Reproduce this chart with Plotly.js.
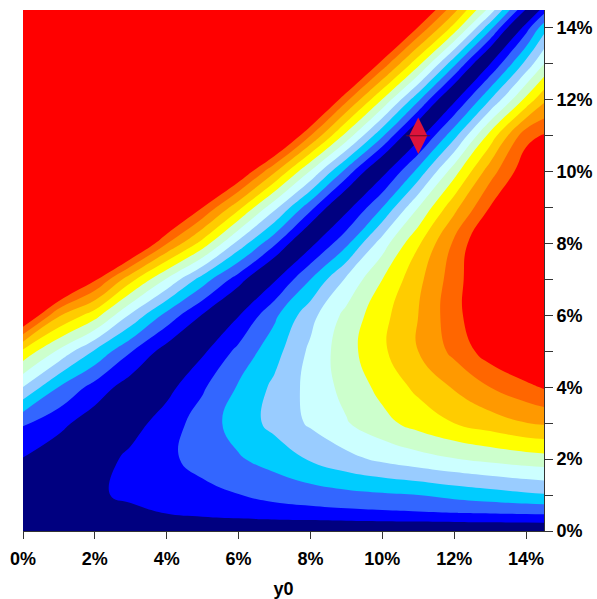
<!DOCTYPE html>
<html><head><meta charset="utf-8">
<script src="https://cdn.plot.ly/plotly-3.0.1.min.js"></script>
<style>html,body{margin:0;padding:0;background:#fff;} #chart{width:597px;height:599px;}</style>
</head><body><div id="chart"></div>
<script>
// grid positions (percent)
const xGrid = [0,1,2,3,4,5,6,7,8,9,10,11,12,13,14,14.5];
const yGrid = [0,0.5,1,2,3,4,5,6,7,8,9,10,11,12,13,14,14.5];
// signed contour level (|value| = colour band index)
const zRow00 = [0,0,0,0,0,0,0,0,0,0,0,0,0,0,0,0];
const zRow005 = [0,-0.15,-0.45,-0.75,-1.03,-1.25,-1.42,-1.55,-1.65,-1.75,-1.83,-1.9,-1.98,-2.05,-2.12,-2.15];
const zRow01 = [0.2,-0.3,-0.85,-1.2,-1.45,-1.7,-1.97,-2.3,-2.5,-2.7,-2.85,-3.0,-3.3,-3.55,-3.8,-3.9];
const zRow02 = [0.95,0.3,-0.5,-1.25,-1.8,-2.35,-2.9,-3.4,-4.1,-4.7,-5.2,-5.6,-5.95,-6.25,-6.5,-6.6];
const zRow03 = [2.1,1.3,0.4,-0.57,-1.49,-2.47,-3.44,-4.3,-5.15,-5.92,-6.69,-7.38,-8.0,-8.49,-8.98,-9.1];
const zRow04 = [4.97,2.96,1.61,0.45,-0.67,-1.87,-3.11,-4.22,-5.32,-6.33,-7.3,-8.25,-9.09,-10.0,-10.7,-11.1];
const zRow05 = [7.74,5.79,3.86,2.05,0.53,-0.83,-2.28,-3.63,-5.21,-6.6,-7.82,-9.0,-10.27,-11.53,-12.55,-13.0];
const zRow06 = [12.5,9.1,7.41,4.82,2.64,0.91,-0.95,-2.8,-4.67,-6.31,-7.69,-9.0,-10.63,-12.14,-13.57,-14.3];
const zRow07 = [16,13.8,11.15,8.32,5.88,3.5,1.47,-0.875,-3.0,-5.17,-7.0,-8.73,-10.52,-12.33,-13.93,-14.8];
const zRow08 = [16,16,15.5,13.0,10.02,7.58,4.62,2.17,-0.71,-2.77,-5.53,-7.88,-10.2,-12.33,-13.9,-14.6];
const zRow09 = [16,16,16,16,13.7,11.0,8.29,5.26,2.33,-0.67,-3.0,-6.0,-8.7,-11.05,-12.9,-13.3];
const zRow10 = [16,16,16,16,16,15.0,12.1,9.13,5.89,2.6,-0.63,-3.33,-6.6,-9.57,-11.7,-12.3];
const zRow11 = [16,16,16,16,16,16,16,13.4,10.0,6.63,3.13,-0.58,-3.68,-7.39,-10.67,-11.1];
const zRow12 = [16,16,16,16,16,16,16,16,13.9,10.23,6.93,3.18,-0.77,-4.0,-7.29,-8.8];
const zRow13 = [16,16,16,16,16,16,16,16,16,14.2,10.6,7.29,3.25,-1.0,-4.33,-6.0];
const zRow14 = [16,16,16,16,16,16,16,16,16,16,14.2,10.89,7.61,3.32,-1.57,-3.6];
const zRow145 = [16,16,16,16,16,16,16,16,16,16,15.5,12.6,9.3,5.6,0.88,-1.57];
const zRows = [zRow00,zRow005,zRow01,zRow02,zRow03,zRow04,zRow05,zRow06,zRow07,zRow08,zRow09,zRow10,zRow11,zRow12,zRow13,zRow14,zRow145];

const bandColors = ['#000080','#0000FF','#3366FF','#00CCFF','#99CCFF','#CCFFFF','#CCFFCC','#FFFF00','#FFCC00','#FF9900','#FF6600','#FF0000'];
const xTickVals = [0,2,4,6,8,10,12,14];
const xTickText = ['0%','2%','4%','6%','8%','10%','12%','14%'];
const yTickVals = [0,1,2,3,4,5,6,7,8,9,10,11,12,13,14];
const yTickText = ['0%','','2%','','4%','','6%','','8%','','10%','','12%','','14%'];
const markerX = [11];
const markerY = [11];

// discrete, mirrored colour scale for levels -11..11
const nTop = bandColors.length - 1; // 11
const nLev = 2 * nTop + 1;           // 23
const colorscale = [];
for (let k = -nTop - 1; k <= nTop; k++) {
  const idx = k >= 0 ? Math.min(k, nTop) : Math.min(-k - 1, nTop);
  colorscale.push([(k + nTop + 1) / nLev, bandColors[idx]]);
}

const fontBold = {family: 'Liberation Sans, Arial, sans-serif', size: 18, color: '#000', weight: 'bold'};

const traces = [
  {
    type: 'contour', x: xGrid, y: yGrid, z: zRows,
    autocontour: false,
    contours: {start: -nTop, end: nTop, size: 1, coloring: 'fill', showlines: false},
    colorscale: colorscale, showscale: false,
    line: {width: 0, smoothing: 1.3},
    hoverinfo: 'skip'
  },
  {
    type: 'scatter', mode: 'markers', x: markerX, y: markerY,
    marker: {symbol: 'diamond-tall', size: 26, color: '#DC143C', line: {width: 0}},
    hoverinfo: 'skip'
  },
  {
    type: 'scatter', mode: 'markers', x: markerX, y: markerY,
    marker: {symbol: 'line-ew', size: 17, color: '#8B0A1E', line: {width: 1, color: '#6B0A1E'}},
    hoverinfo: 'skip'
  }
];

const layout = {
  width: 597, height: 599,
  margin: {l: 23, r: 53, t: 10, b: 68, pad: 0},
  paper_bgcolor: '#fff', plot_bgcolor: '#fff',
  showlegend: false,
  xaxis: {
    range: [0, 14.5], tickmode: 'array', tickvals: xTickVals, ticktext: xTickText,
    ticks: 'outside', ticklen: 7, tickwidth: 1, tickcolor: '#333', ticklabelstandoff: 4,
    showline: true, linecolor: '#333', linewidth: 1, mirror: false,
    showgrid: false, zeroline: false, tickfont: fontBold,
    title: {text: 'y0', font: fontBold, standoff: 14}
  },
  yaxis: {
    range: [0, 14.5], side: 'right', tickmode: 'array', tickvals: yTickVals, ticktext: yTickText,
    ticks: 'outside', ticklen: 8, tickwidth: 1, tickcolor: '#333',
    showline: true, linecolor: '#333', linewidth: 1,
    showgrid: false, zeroline: false, tickfont: fontBold
  }
};

Plotly.newPlot('chart', traces, layout, {staticPlot: true, displayModeBar: false});
</script>
</body></html>
